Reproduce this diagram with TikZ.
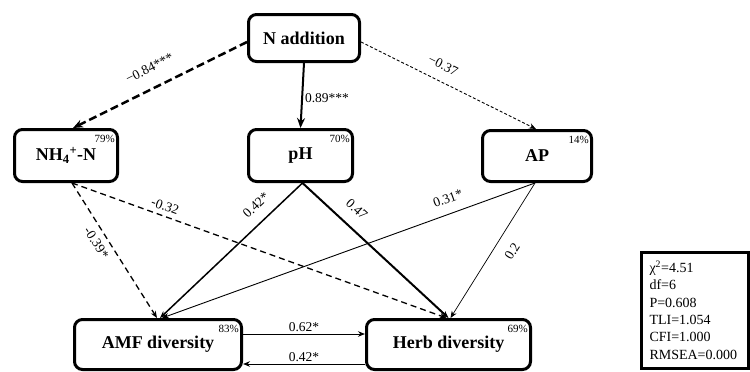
\documentclass[tikz,border=0pt]{standalone}
\usepackage{fontspec}
\setmainfont{Liberation Serif}
\usetikzlibrary{positioning,calc,arrows.meta}
\tikzset{
    varbox/.style={draw=black, line width=3pt, rounded corners=8pt, fill=white, inner sep=0pt, font=\fontsize{18}{20}\selectfont\bfseries},
    pctlabel/.style={font=\fontsize{11}{13}\selectfont, anchor=north east, inner sep=0pt},
    pathlabel/.style={font=\fontsize{13.5}{15}\selectfont, inner sep=1pt},
    effect/.style={-{Stealth[length=7pt,width=5.5pt]}, draw=black}
}

\begin{document}
\begin{tikzpicture}[
        x=1pt, y=1pt,
        % Style dong manh / dong duong
        bigtip/.style={-{Stealth[length=10pt,width=8pt]}},
        % Style khung chi so do khop
        statbox/.style={
            draw=black,
            line width=3pt,
            fill=white,
            align=left,
            text width=90pt,
            inner xsep=8.5pt,
            font=\fontsize{14}{17.3}\selectfont
        }
    ]
        \useasboundingbox (0,-372) rectangle (750,0);

        % --- 1. CAC BIEN ---
        \node[varbox, minimum width=111pt, minimum height=47pt] (nadd) at (304,-38) {N addition};
        \node[varbox, minimum width=103pt, minimum height=52pt] (nh4) at (66,-155.5) {NH\textsubscript{4}\textsuperscript{+}-N};
        \node[varbox, minimum width=104pt, minimum height=52pt] (ph) at (300.5,-155.5) {pH};
        \node[varbox, minimum width=109pt, minimum height=51pt] (ap) at (537,-156) {AP};
        \node[varbox, minimum width=167pt, minimum height=50pt] (amf) at (158,-344.5) {AMF diversity};
        \node[varbox, minimum width=164pt, minimum height=50pt] (herb) at (448.5,-344.5) {Herb diversity};

        % ty le phuong sai giai thich
        \node[pctlabel] at ($(nh4.north east)+(-4,-7)$) {79\%};
        \node[pctlabel] at ($(ph.north east)+(-4,-7)$) {70\%};
        \node[pctlabel] at ($(ap.north east)+(-4,-7)$) {14\%};
        \node[pctlabel] at ($(amf.north east)+(-4,-7)$) {83\%};
        \node[pctlabel] at ($(herb.north east)+(-4,-7)$) {69\%};

        % --- 2. DUONG TAC DONG ---
        \draw[bigtip, line width=2.5pt, dash pattern=on 8pt off 4pt] ($(nadd.west)+(0,-4)$) -- ($(nh4.north)+(7,0)$)
            node[pathlabel, pos=0.51, sloped, above=13pt] {−0.84***};
        \draw[bigtip, line width=2pt] (nadd.south) -- (ph.north)
            node[pathlabel, pos=0.54, right=1pt] {0.89***};
        \draw[effect, line width=0.9pt, dash pattern=on 3pt off 2pt] ($(nadd.east)+(0,-4)$) -- ($(ap.north)+(-1,0)$)
            node[pathlabel, pos=0.43, sloped, above=9.5pt] {−0.37};

        \draw[effect, line width=1.3pt, dash pattern=on 6pt off 4pt] ($(nh4.south)+(6,0)$) -- ($(amf.north)+(-1,0)$)
            node[pathlabel, pos=0.40, sloped, below=5pt] {-0.39*};
        \draw[effect, line width=1.3pt, dash pattern=on 6pt off 4pt] ($(nh4.south)+(6,0)$) -- ($(herb.north)+(-2,0)$)
            node[pathlabel, pos=0.24, sloped, above=3.5pt] {-0.32};

        \draw[effect, line width=1.5pt] ($(ph.south)+(2,0)$) -- ($(amf.north)+(2,0)$)
            node[pathlabel, pos=0.25, sloped, above=9.5pt] {0.42*};
        \draw[effect, line width=2pt] ($(ph.south)+(2,0)$) -- ($(herb.north)+(0,0)$)
            node[pathlabel, pos=0.29, sloped, above=11pt] {0.47};

        \draw[effect, line width=0.9pt] ($(ap.south)+(-2,0)$) -- ($(amf.north)+(4,0)$)
            node[pathlabel, pos=0.22, sloped, above=9pt] {0.31*};
        \draw[effect, line width=0.7pt] ($(ap.south)+(-2,0)$) -- ($(herb.north)+(2,0)$)
            node[pathlabel, pos=0.44, sloped, below=11pt] {0.2};

        \draw[effect, line width=1pt] ($(amf.east)+(0,10.5)$) -- ($(herb.west)+(0,10.5)$)
            node[pathlabel, midway, above=1pt] {0.62*};
        \draw[effect, line width=1pt] ($(herb.west)+(0,-19.5)$) -- ($(amf.east)+(0,-19.5)$)
            node[pathlabel, midway, above=1pt] {0.42*};

        % --- 3. CHI SO DO KHOP ---
        \node[statbox, anchor=north west, minimum height=116pt] (fitbox) at (639.5,-250.5) {χ\textsuperscript{2}=4.51\\ df=6\\ P=0.608\\ TLI=1.054\\ CFI=1.000\\ RMSEA=0.000};

    \end{tikzpicture}
\end{document}
